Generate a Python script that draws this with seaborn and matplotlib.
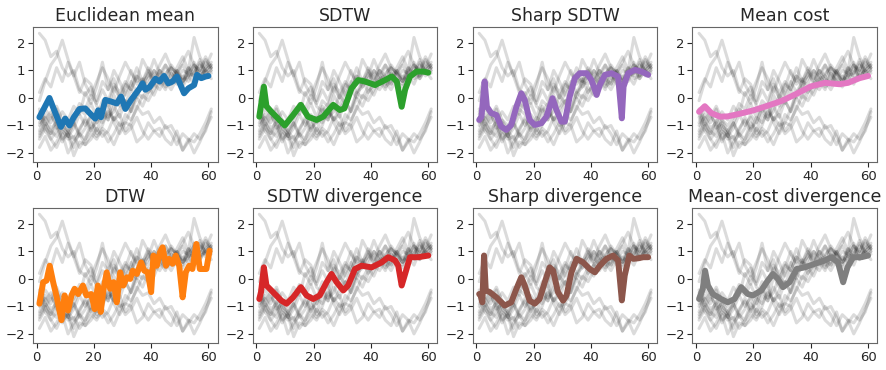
import numpy as np
import pandas as pd
import matplotlib
matplotlib.use("Agg")
import matplotlib.pyplot as plt
import seaborn as sns

sns.set_style("ticks")
plt.rcParams['font.family'] = ['DejaVu Sans']

# ---- data: gray input series (sampled every 2 time steps) ----
x_gray = list(range(1, 62, 2))
g1 = [2.35, 2.1, 1.5, 1.7, 1.1, 0.8, 1.0, 0.3, 0.1, 0.4, -0.3, -0.5, -0.2, -0.9, -1.3, -0.9, -1.0, -1.6, -1.4, -0.9, -1.2, -1.1, -1.5, -1.7, -1.2, -1.9, -1.6, -1.3, -1.5, -1.2, -0.5]
g2 = [-0.1, 0.6, 1.2, 1.5, 2.1, 1.4, 0.8, 1.3, 0.5, 0.1, 0.6, 1.1, 0.7, 0.2, 0.8, 1.3, 0.9, 0.6, 1.4, 1.0, 0.7, 1.2, 1.6, 1.1, 0.9, 1.3, 1.7, 1.2, 1.0, 1.5, 1.1]
g3 = [-1.5, -1.1, -1.3, -0.8, -1.2, -1.4, -0.9, -0.4, -0.6, -0.2, -0.7, -0.1, -0.3, 0.4, 0.0, 0.5, 0.3, 0.8, 0.4, 0.7, 1.0, 0.8, 0.5, 1.1, 0.9, 0.6, 1.0, 1.3, 0.8, 1.0, 0.7]
g4 = [-0.7, -1.2, -1.5, -1.8, -1.3, -2.0, -1.6, -1.3, -1.5, -0.9, -1.2, -0.6, -0.8, -0.3, -0.7, -0.1, -0.5, 0.2, 0.0, 0.4, 0.1, 0.6, 0.3, 0.9, 0.5, 0.8, 0.6, 1.1, 0.7, 1.0, 0.9]
g5 = [-1.2, -0.6, -0.9, -0.4, -1.1, -1.3, -1.8, -1.2, -0.7, -1.1, -0.9, -0.3, -0.7, -0.5, 0.1, -0.2, 0.3, 0.0, 0.6, 1.0, 0.5, 0.7, 1.2, 0.9, 0.6, 0.4, 0.8, 1.2, 0.7, 1.1, 1.3]
g6 = [-0.4, -0.8, -0.5, -1.1, -0.9, -1.4, -1.1, -0.6, -1.0, -0.7, -1.3, -1.0, -0.4, -0.8, -0.6, -1.2, -0.9, -0.3, -0.6, -0.5, -0.9, -0.7, -1.1, -1.0, -1.4, -1.9, -1.5, -1.6, -1.3, -0.9, -0.4]
g7 = [-1.0, -0.7, -1.1, -0.9, -1.5, -1.3, -2.1, -1.6, -1.7, -1.3, -1.5, -1.1, -1.3, -1.7, -1.2, -0.6, -0.8, -0.4, 0.1, -0.1, 0.3, 0.7, 0.4, 0.6, 1.0, 0.6, 0.8, 0.5, 1.0, 0.9, 1.1]
g8 = [0.2, 0.7, 0.4, 1.1, 0.6, 1.3, 0.8, 0.2, 0.7, 0.5, -0.1, 0.6, 0.3, 1.0, 0.6, 0.1, 0.5, 1.1, 0.6, 0.8, 1.4, 0.9, 1.2, 0.7, 1.1, 1.5, 1.0, 2.2, 1.5, 1.1, 1.6]
g9 = [-1.4, -1.0, -1.5, -1.2, -0.8, -1.2, -0.9, -1.3, -1.7, -1.5, -1.1, -1.4, -1.2, -0.7, -1.0, -0.9, -0.4, 0.2, 0.6, 0.5, 1.0, 0.7, 0.8, 1.2, 0.9, 0.6, 0.9, 0.8, 1.2, 1.0, 1.2]
g10 = [-0.6, -1.0, -0.7, -0.9, -0.5, -0.8, -0.3, -0.6, 0.2, -0.2, 0.4, 1.3, 0.3, 0.7, 0.0, 0.4, 1.0, 0.5, 0.7, 0.2, 0.5, 1.0, 0.6, 0.3, 0.7, 0.5, 1.1, 0.7, 0.8, 1.3, 1.0]
g11 = [-1.8, -1.4, -1.9, -1.6, -1.2, -1.5, -1.4, -1.8, -1.5, -1.1, -1.4, -1.2, -1.6, -1.3, -0.9, -1.3, -1.1, -0.7, -1.2, -1.5, -1.2, -1.4, -1.0, -1.3, -1.7, -1.3, -1.5, -2.0, -1.6, -1.1, -0.7]
g12 = [-0.9, -0.4, -0.7, -0.3, -0.8, -1.0, -0.7, -0.2, -0.4, 0.1, -0.2, 0.3, -0.1, 0.5, 0.2, 0.6, 0.3, 0.8, 0.6, 1.1, 0.8, 0.5, 0.9, 1.1, 0.7, 1.0, 0.9, 1.2, 1.0, 1.4, 1.1]
g13 = [-1.3, -0.9, -1.2, -1.4, -1.0, -1.2, -1.5, -1.1, -0.8, -1.2, -0.7, -0.9, -0.5, -0.8, -0.4, -0.1, -0.5, 0.0, -0.3, 0.2, 0.5, 0.3, 0.7, 0.5, 0.9, 1.2, 0.8, 0.9, 1.3, 1.0, 1.2]
g14 = [-0.5, -0.9, -1.3, -1.0, -1.6, -1.2, -0.9, -1.4, -1.1, -0.6, -0.9, -0.4, -0.8, 0.1, -0.3, 0.2, 0.6, 0.2, 0.4, 0.9, 0.6, 1.0, 0.8, 0.5, 1.0, 0.7, 1.1, 0.9, 1.4, 0.8, 1.0]
gray_series = [g1, g2, g3, g4, g5, g6, g7, g8, g9, g10, g11, g12, g13, g14]

# ---- barycenters ----
titles = ["Euclidean mean", "SDTW", "Sharp SDTW", "Mean cost",
          "DTW", "SDTW divergence", "Sharp divergence", "Mean-cost divergence"]
colors = ["tab:blue", "tab:green", "tab:purple", "tab:pink",
          "tab:orange", "tab:red", "tab:brown", "tab:gray"]

euc_x = [1, 4.5, 6, 8.5, 10, 11.5, 13, 15, 17, 19, 20.5, 21.5, 22.5, 24, 26, 28, 29.5, 31, 33, 36, 37, 38, 39.5, 41.5, 43, 44.5, 46, 47.5, 49, 50.5, 51.5, 53, 55, 56, 57.5, 59, 60]
euc_y = [-0.7, 0.0, -0.4, -1.05, -0.75, -1.0, -0.7, -0.4, -0.38, -0.6, -0.75, -0.45, -0.7, -0.07, -0.13, -0.2, 0.05, -0.4, -0.07, 0.35, 0.53, 0.3, 0.4, 0.7, 0.6, 0.8, 0.53, 0.6, 0.78, 0.41, 0.17, 0.35, 0.47, 0.84, 0.72, 0.78, 0.8]

sdtw_x = [1, 2.6, 3.5, 5.2, 9.9, 12.8, 15.5, 18, 21, 23.3, 26.8, 29.1, 30.7, 33.2, 35.5, 37.9, 41.4, 44.9, 47.2, 49, 50.7, 51.9, 53.6, 55.9, 58.3, 60]
sdtw_y = [-0.68, 0.41, -0.3, -0.5, -1.0, -0.62, -0.25, -0.68, -0.8, -0.68, -0.25, -0.44, -0.38, 0.35, 0.65, 0.6, 0.47, 0.65, 0.78, 0.6, -0.32, 0.3, 0.78, 0.96, 0.96, 0.92]

sharp_x = [1, 1.8, 2.9, 3.7, 5.2, 7, 8.7, 10.5, 12.2, 14, 15.7, 16.9, 18.6, 20.4, 22.7, 24.5, 26.6, 28, 29.7, 30.9, 32.6, 34.4, 36.1, 38.5, 40.2, 42, 43.1, 44.9, 47.2, 49.5, 50.8, 51.4, 53, 55.4, 57.7, 60]
sharp_y = [-0.8, -0.68, 0.6, -0.32, -0.55, -0.62, -1.04, -1.16, -0.98, -0.32, 0.17, -0.07, -0.8, -0.98, -0.92, -0.68, -0.01, -0.44, -0.86, -0.86, 0.05, 0.72, 0.9, 0.9, 0.65, 0.11, 0.47, 0.84, 0.9, 0.78, -0.74, 0.41, 0.9, 1.02, 0.96, 0.84]

mc_x = [1, 3, 5.3, 8.3, 11, 15, 20, 25, 30, 35, 40, 45, 50, 53, 57, 60]
mc_y = [-0.5, -0.3, -0.55, -0.68, -0.67, -0.58, -0.45, -0.28, -0.1, 0.15, 0.42, 0.55, 0.5, 0.55, 0.72, 0.8]

dtw_x = [1, 2.3, 3.5, 4.6, 5.8, 6.9, 8.7, 9.8, 11, 12.2, 13.3, 14.5, 16.2, 17.4, 19.1, 20.3, 21.4, 22.4, 23.4, 24.5, 25.7, 26.9, 28, 29.2, 30.3, 31.5, 32.7, 33.6, 35, 36.5, 37.6, 38.8, 40, 40.8, 42, 43.1, 44, 45.2, 46.3, 47.5, 48.6, 49.8, 51, 52.1, 53.3, 54.4, 55.8, 57, 58.1, 59.3, 60.4]
dtw_y = [-0.9, -0.12, -0.06, 0.48, -0.12, -0.6, -1.5, -0.6, -1.15, -0.6, -0.36, -0.55, -0.24, -0.6, -0.55, -1.1, -0.24, -1.2, -0.36, 0.24, -0.36, -0.12, -0.85, 0.24, -0.24, 0.06, 0.0, 0.3, 0.18, 0.6, 0.3, 0.24, -0.48, 0.85, 0.48, 0.97, 1.15, 0.48, 0.73, 0.55, 0.85, 0.48, -0.67, 0.24, 0.48, 0.36, 1.27, 0.36, 0.36, 0.36, 1.03]

sdiv_x = [1, 1.6, 2.6, 3.5, 5.8, 8.7, 10.5, 12.8, 15.5, 17.5, 19.8, 22.1, 24.5, 26.2, 28, 30.3, 32, 34.4, 36.7, 40.2, 43.7, 46, 48.4, 49.5, 50.7, 51.9, 53.6, 56.5, 60]
sdiv_y = [-0.73, -0.48, 0.42, -0.24, -0.48, -0.79, -0.9, -0.67, -0.3, -0.6, -0.73, -0.6, -0.12, 0.18, -0.12, -0.42, -0.24, 0.36, 0.48, 0.42, 0.6, 0.79, 0.67, 0.48, -0.24, 0.18, 0.79, 0.79, 0.85]

shdiv_x = [1, 1.5, 2.1, 2.7, 3.3, 4.7, 7, 9.9, 12.2, 14, 15.7, 16.9, 18.6, 20.4, 22.1, 23.9, 25.6, 26.8, 28.5, 30.3, 31.5, 33.2, 35, 37.3, 39.6, 41.4, 43.1, 45.4, 47.8, 49.5, 50.8, 51.8, 53.4, 54.8, 56.5, 58.3, 60]
shdiv_y = [-0.55, -0.6, -0.85, 0.85, -0.42, -0.48, -0.67, -0.97, -0.85, -0.36, 0.06, -0.24, -0.79, -0.9, -0.73, -0.12, 0.42, 0.3, -0.48, -0.79, -0.6, 0.24, 0.73, 0.6, 0.36, 0.24, 0.48, 0.73, 0.85, 0.67, -0.78, 0.12, 0.85, 0.73, 0.75, 0.79, 0.79]

mcdiv_x = [1, 2.3, 3.1, 4.1, 5.8, 8.7, 11, 13.4, 15.7, 18, 19.8, 22.7, 25, 26.8, 28.5, 30.3, 32.6, 35, 37.9, 41.4, 44.9, 47.2, 49.5, 51.3, 52.8, 54.8, 57.7, 60]
mcdiv_y = [-0.73, -0.36, 0.3, -0.24, -0.55, -0.73, -0.85, -0.73, -0.3, -0.55, -0.6, -0.42, -0.06, 0.18, 0.0, -0.3, -0.12, 0.36, 0.42, 0.55, 0.67, 0.79, 0.6, -0.12, 0.42, 0.79, 0.79, 0.85]

bary_x = [euc_x, sdtw_x, sharp_x, mc_x, dtw_x, sdiv_x, shdiv_x, mcdiv_x]
bary_y = [euc_y, sdtw_y, sharp_y, mc_y, dtw_y, sdiv_y, shdiv_y, mcdiv_y]

gray_df = pd.DataFrame({
    "t": np.tile(x_gray, len(gray_series)),
    "v": np.concatenate(gray_series),
    "sid": np.repeat(np.arange(len(gray_series)), len(x_gray)),
})

fig, axes = plt.subplots(2, 4, figsize=(8.87, 3.70), dpi=100)
fig.subplots_adjust(left=0.037, right=0.989, top=0.927, bottom=0.073,
                    wspace=0.19, hspace=0.34)

for ax, title, col, bx, by in zip(axes.flat, titles, colors, bary_x, bary_y):
    sns.lineplot(data=gray_df, x="t", y="v", units="sid", estimator=None,
                 color="k", alpha=0.14, linewidth=2.2, ax=ax, legend=False)
    sns.lineplot(x=bx, y=by, color=col, linewidth=4.3, ax=ax, sort=False)
    ax.set_title(title, fontsize=12.5, pad=4)
    ax.set_xlabel("")
    ax.set_ylabel("")
    ax.set_xlim(-1.3, 63.2)
    ax.set_ylim(-2.33, 2.58)
    ax.set_xticks([0, 20, 40, 60])
    ax.set_yticks([-2, -1, 0, 1, 2])
    ax.tick_params(labelsize=9.5, length=3.5, width=0.8, pad=2)
    for sp in ax.spines.values():
        sp.set_color("#666666")
        sp.set_linewidth(0.8)

fig.savefig("out.png", dpi=100)
